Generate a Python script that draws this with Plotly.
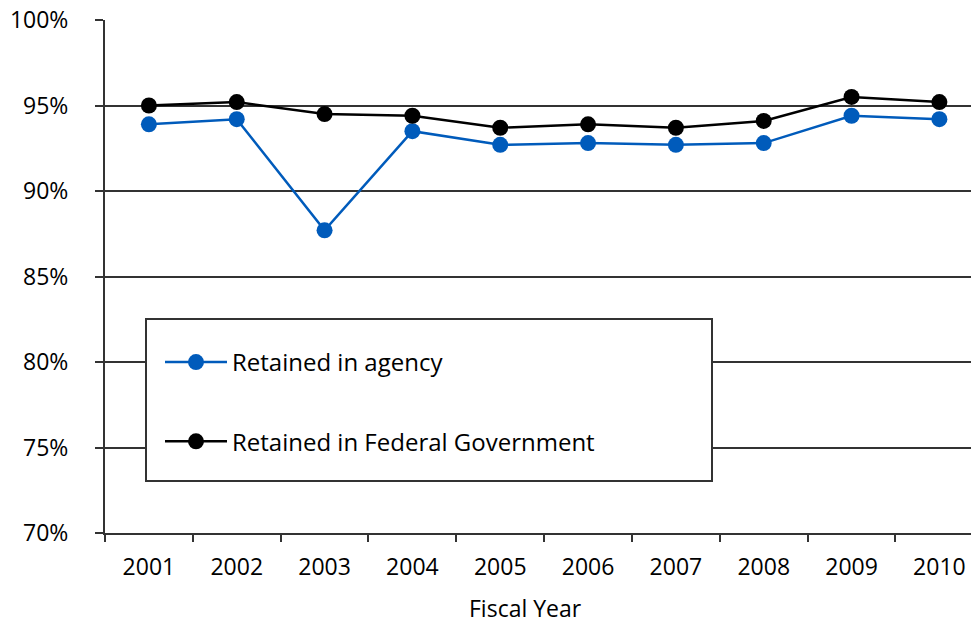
import plotly.graph_objects as go

# Fiscal years and retention rates (%)
years = ["2001", "2002", "2003", "2004", "2005", "2006", "2007", "2008", "2009", "2010"]
retained_agency = [93.9, 94.2, 87.7, 93.5, 92.7, 92.8, 92.7, 92.8, 94.4, 94.2]
retained_federal = [95.0, 95.2, 94.5, 94.4, 93.7, 93.9, 93.7, 94.1, 95.5, 95.2]
y_ticks = [70, 75, 80, 85, 90, 95, 100]
y_tick_text = ["70%", "75%", "80%", "85%", "90%", "95%", "100%"]

FONT = "Open Sans"
BLUE = "#005BBB"
GRID = "#333333"

W, H = 971, 624
ML, MR, MT, MB = 105, 0, 20, 91
PW, PH = W - ML - MR, H - MT - MB


def px_x(p):
    return (p - ML) / PW


def px_y(p):
    return (H - MB - p) / PH


fig = go.Figure()
fig.add_trace(go.Scatter(
    x=years, y=retained_agency, name="Retained in agency",
    mode="lines+markers", legendgroup="a",
    line=dict(color=BLUE, width=2.5),
    marker=dict(color=BLUE, size=16),
))
fig.add_trace(go.Scatter(
    x=years, y=retained_federal, name="Retained in Federal Government",
    mode="lines+markers", legendgroup="b",
    line=dict(color="black", width=2.5),
    marker=dict(color="black", size=16),
))

# Legend frame
fig.add_shape(
    type="rect", xref="paper", yref="paper",
    x0=px_x(146), x1=px_x(712), y0=px_y(481), y1=px_y(319),
    line=dict(color=GRID, width=2), fillcolor="white", layer="above",
)

fig.add_annotation(
    text="Fiscal Year", xref="paper", yref="paper",
    x=px_x(525), y=px_y(608), showarrow=False,
    font=dict(family=FONT, size=23, color="black"),
    xanchor="center", yanchor="middle",
)

fig.update_layout(
    width=W, height=H,
    margin=dict(l=ML, r=MR, t=MT, b=MB),
    paper_bgcolor="white", plot_bgcolor="white",
    font=dict(family=FONT, size=23, color="black"),
    showlegend=True,
    legend=dict(
        x=px_x(160), y=px_y(340), xanchor="left", yanchor="top",
        bgcolor="rgba(0,0,0,0)", borderwidth=0,
        font=dict(family=FONT, size=24, color="black"),
        tracegroupgap=45, traceorder="grouped", itemwidth=62,
    ),
    xaxis=dict(
        type="category", range=[-0.5, 9.36],
        tickson="boundaries", ticks="outside", ticklen=7, tickwidth=2,
        tickcolor=GRID, showgrid=False, zeroline=False,
        showline=True, linecolor=GRID, linewidth=2,
        ticklabelstandoff=12,
        tickfont=dict(family=FONT, size=23),
    ),
    yaxis=dict(
        range=[70, 100], tickvals=y_ticks, ticktext=y_tick_text,
        showgrid=True, gridcolor=GRID, gridwidth=2,
        showline=True, linecolor=GRID, linewidth=2,
        ticks="outside", ticklen=8, tickwidth=2, tickcolor=GRID,
        zeroline=False, ticklabelstandoff=22,
        tickfont=dict(family=FONT, size=23),
    ),
)

fig.write_html("out.html")
